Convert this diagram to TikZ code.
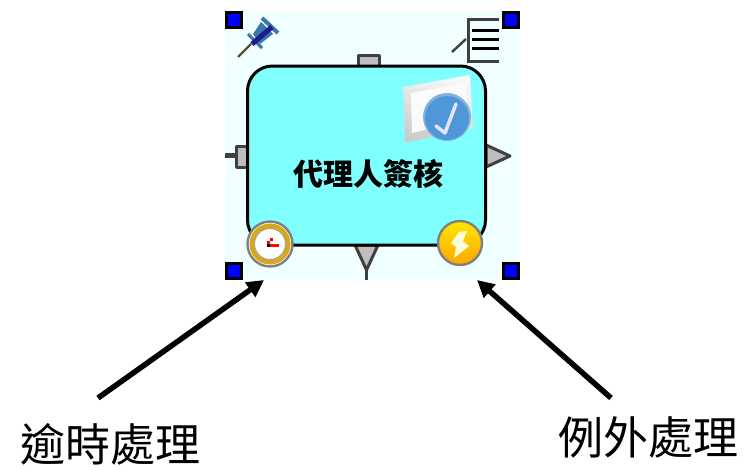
\documentclass[tikz,border=0pt]{standalone}
\usepackage{fontspec}
\newfontfamily\cjk{Noto Sans CJK TC}
\usetikzlibrary{arrows.meta}
\definecolor{palebg}{HTML}{F0FFFF}
\definecolor{boxfill}{HTML}{80FFFF}
\definecolor{portgrey}{HTML}{BEBEBE}
\definecolor{portedge}{HTML}{404040}
\definecolor{pinteal}{HTML}{3A78A8}
\definecolor{pinnavy}{HTML}{1C1C90}
\definecolor{discblue}{HTML}{4F97D8}
\definecolor{discdark}{HTML}{7FB2DE}
\definecolor{gold}{HTML}{D8A818}
\tikzset{
 x=1pt,y=-1pt,
 handle/.style={draw=black,line width=3pt,fill=blue,minimum size=15pt,inner sep=0pt,outer sep=0pt},
 portshape/.style={fill=portgrey,draw=portedge,line width=3pt,line join=round},
 callout/.style={line width=5.5pt,black,-{Triangle[length=17pt,width=17pt]}},
 lbl/.style={font=\cjk\fontsize{45}{45}\selectfont,inner sep=0pt,text=black},
}
\begin{document}
\begin{tikzpicture}
\useasboundingbox (0,0) rectangle (744,469);
\fill[palebg] (225,11) rectangle (520,280);
% ports
\draw[portshape] (358,66) -- (358,55) -- (379,55) -- (379,66);
\draw[portedge,line width=5pt] (225,155) -- (236,155);
\draw[portshape] (247,146) -- (236,146) -- (236,167) -- (247,167);
\draw[portshape] (486,145) -- (510,156) -- (486,167) -- cycle;
\draw[portedge,line width=2.6pt] (366.5,268) -- (366.5,280);
\draw[portshape] (355,245) -- (378,245) -- (366.5,270) -- cycle;
% main box
\node[draw=black,line width=3pt,fill=boxfill,rounded corners=25pt,minimum width=238pt,minimum height=179pt,inner sep=0pt,outer sep=0pt] (task) at (366.5,155.5) {};
\node[font=\cjk\bfseries\fontsize{30}{30}\selectfont,inner sep=0pt] (tasklabel) at (368,174) {代理人簽核};
% handles
\node[handle] (h1) at (234,20) {};
\node[handle] (h2) at (511,20) {};
\node[handle] (h3) at (234,271) {};
\node[handle] (h4) at (511,271) {};
% pin
\draw[olive!50!black,line width=2.4pt] (238,57) -- (251,44);
\draw[pinteal,line width=4pt] (262,18) -- (278,33);
\draw[pinteal,line width=3pt] (248,34) -- (262,48);
\fill[pinteal] (253,34) -- (261,22) -- (273,34) -- (260,44) -- cycle;
\draw[pinnavy,line width=5pt] (252,44) -- (272,27);
% note
\draw[portedge,line width=3pt] (499,19) -- (468,19) -- (468,61) -- (499,61);
\draw[black,line width=3pt] (472,30) -- (499,30) (472,39) -- (499,39) (472,48) -- (499,48);
\draw[portedge,line width=2.4pt] (452,52) -- (466,39);
% document with check
\shade[top color=white!95!gray,bottom color=gray!40,shading angle=-20] (403,87) -- (470,75) -- (473,128) -- (405,143) -- cycle;
\fill[white!97!gray] (411,93) -- (466,83) -- (468,120) -- (412,133) -- cycle;
\node[circle,fill=discdark,draw=none,minimum size=48pt,inner sep=0pt] (checkdisc) at (447,117) {};
\fill[discblue] (447,118) circle (22pt);
\draw[white!90!blue,line width=3.5pt,line cap=round,line join=round] (436,126) -- (445,133) -- (456,104);
% clock
\node[circle,draw=gray,line width=2.4pt,fill=white,minimum size=45pt,inner sep=0pt] (clock) at (270,244) {};
\draw[gold,line width=5pt] (270,244) circle (18pt);
\draw[gray!70,line width=1pt] (270,244) circle (15.5pt);
\fill[red] (270,244) rectangle (279,247);
\fill[red] (270,238) rectangle (273,241);
\fill[red] (267,241) rectangle (270,244);
\fill[black] (267,244) rectangle (270,247);
% lightning
\node[circle,draw=gray,line width=2.4pt,bottom color=orange!70!yellow,top color=yellow!80!orange,minimum size=44pt,inner sep=0pt] (bolt) at (460,243) {};
\fill[white!85!yellow] (459,232) -- (451,243) -- (456,247) -- (454,258) -- (469,246) -- (463,241) -- (467,231) -- cycle;
% callouts
\coordinate (a1s) at (98,398);
\coordinate (a1t) at (264,280);
\coordinate (a2s) at (611,398);
\coordinate (a2t) at (477,280);
\draw[callout] (a1s) -- (a1t);
\draw[callout] (a2s) -- (a2t);
\node[lbl] (l1) at (110,444) {逾時處理};
\node[lbl] (l2) at (648,437) {例外處理};
\end{tikzpicture}
\end{document}
